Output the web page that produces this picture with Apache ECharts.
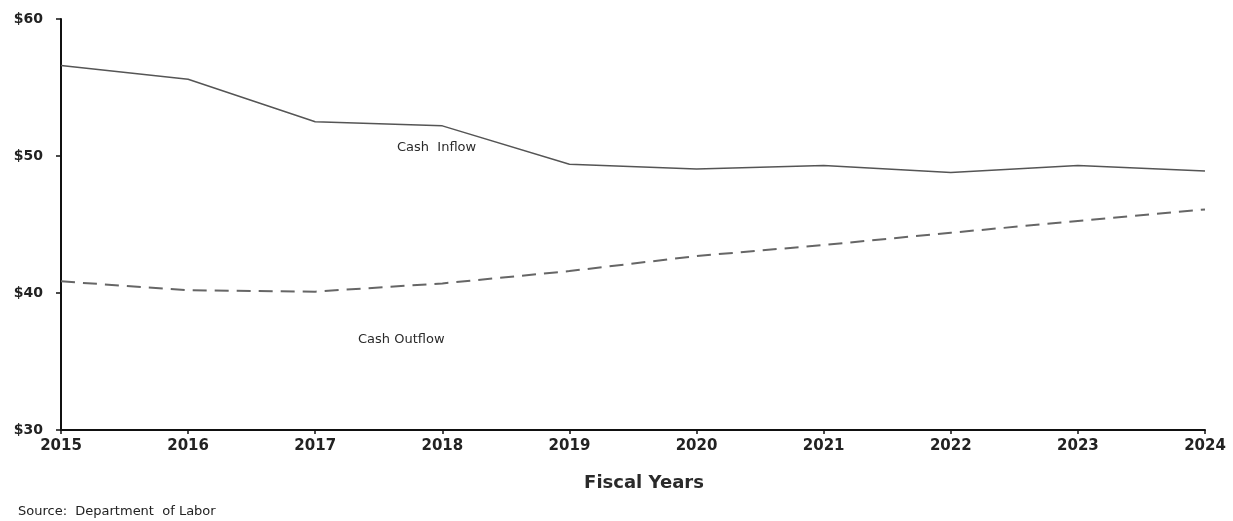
<!DOCTYPE html>
<html>
<head>
<meta charset="utf-8">
<script src="https://cdn.jsdelivr.net/npm/echarts@6/dist/echarts.min.js"></script>
<style>html,body{margin:0;padding:0;background:#fff}#c{width:1233px;height:521px}</style>
</head>
<body>
<div id="c"></div>
<script>
const years = ['2015','2016','2017','2018','2019','2020','2021','2022','2023','2024'];
const cashInflow = [56.6, 55.6, 52.5, 52.2, 49.4, 49.05, 49.3, 48.8, 49.3, 48.9];
const cashOutflow = [40.85, 40.2, 40.1, 40.7, 41.6, 42.7, 43.5, 44.4, 45.25, 46.1];
const yTicks = [30, 40, 50, 60];

const chart = echarts.init(document.getElementById('c'));
const font = '"DejaVu Sans", sans-serif';
chart.setOption({
  animation: false,
  backgroundColor: '#fff',
  grid: { left: 61, right: 28, top: 19, bottom: 91, containLabel: false },
  xAxis: {
    type: 'category', data: years, boundaryGap: false,
    name: 'Fiscal Years', nameLocation: 'middle', nameGap: 44,
    nameTextStyle: { fontFamily: font, fontSize: 18, color: '#2a2a2a', fontWeight: 'bold', padding: [0, 0, 0, 22] },
    axisLine: { lineStyle: { color: '#111', width: 2 } },
    axisTick: { inside: false, length: 4, lineStyle: { color: '#111', width: 1.5 } },
    axisLabel: { fontFamily: font, fontSize: 15, color: '#222', margin: 9, fontWeight: 'bold' },
    splitLine: { show: false }
  },
  yAxis: {
    type: 'value', min: 30, max: 60, interval: 10,
    axisLine: { show: true, lineStyle: { color: '#111', width: 2 } },
    axisTick: { show: true, length: 5, lineStyle: { color: '#111', width: 1.5 } },
    axisLabel: { fontFamily: font, fontSize: 14, color: '#222', margin: 18, fontWeight: 'bold',
      formatter: v => yTicks.includes(v) ? '$' + v : '' },
    splitLine: { show: false }
  },
  series: [
    { name: 'Cash Inflow', type: 'line', data: cashInflow, symbol: 'none',
      lineStyle: { color: '#555', width: 1.5 } },
    { name: 'Cash Outflow', type: 'line', data: cashOutflow, symbol: 'none',
      lineStyle: { color: '#666', width: 2, type: [14, 8] } }
  ],
  graphic: [
    { type: 'text', left: 397, top: 141, style: { text: 'Cash  Inflow', font: '13px ' + font, fill: '#2a2a2a' } },
    { type: 'text', left: 358, top: 333, style: { text: 'Cash Outflow', font: '13px ' + font, fill: '#2a2a2a' } },
    { type: 'text', left: 18, top: 505, style: { text: 'Source:  Department  of Labor', font: '13px ' + font, fill: '#222' } }
  ]
});
</script>
</body>
</html>
